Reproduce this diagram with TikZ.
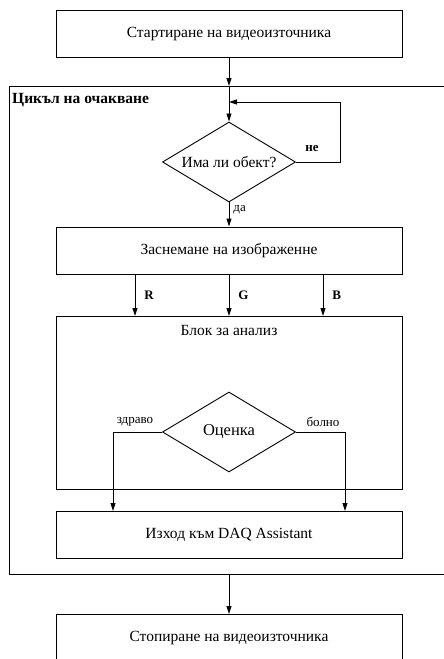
\documentclass[tikz,border=0pt]{standalone}
\usepackage{fontspec}
\setmainfont{Liberation Serif}
\usetikzlibrary{shapes.geometric,arrows.meta}

\begin{document}
\begin{tikzpicture}[x=1pt,y=-1pt]
    \tikzset{blk/.style={draw,line width=0.9pt,minimum width=346pt,minimum height=47pt,inner sep=0pt,font=\fontsize{15.5}{18}\selectfont}}
    \tikzset{dec/.style={draw,diamond,line width=0.9pt,minimum width=133pt,minimum height=80pt,inner sep=0pt}}
    \tikzset{arr/.style={line width=0.9pt,-{Triangle[length=8pt,width=5pt]}}}
    \tikzset{lbl/.style={font=\fontsize{13}{15}\selectfont,inner sep=1pt}}

    \useasboundingbox (0,0) rectangle (444,659);

    % outer loop frame
    \draw[line width=0.9pt] (9,86) rectangle (448,574);
    \node[anchor=west,font=\bfseries\fontsize{15.5}{18}\selectfont,inner sep=0pt] (looptitle) at (12,100) {Цикъл на очакване};

    \node[blk] (start) at (229,34) {Стартиране на видеоизточника};
    \node[dec] (obj) at (229,162) {};
    \node[font=\fontsize{15.5}{18}\selectfont] (objtext) at (obj) {Има ли обект?};
    \node[blk] (grab) at (229,250.5) {Заснемане на изображенне};
    \node[blk,minimum height=173pt] (anal) at (229,402.5) {};
    \node[font=\fontsize{15.5}{18}\selectfont] (analtitle) at (229,330) {Блок за анализ};
    \node[dec] (eval) at (229,432) {};
    \node[font=\fontsize{16.5}{18}\selectfont] (evaltext) at (eval) {Оценка};
    \node[blk] (out) at (229,534.5) {Изход към DAQ Assistant};
    \node[blk] (stop) at (229,638) {Стопиране на видеоизточника};

    \coordinate (frametop) at (229,86);
    \coordinate (framebot) at (229,574);
    \coordinate (back) at (229,102);

    \draw[arr] (start) -- (frametop);
    \draw[arr] (frametop) -- (obj);
    \draw[arr] (obj.east) -- (340,162) |- (back);
    \node[lbl,font=\bfseries\fontsize{13}{15}\selectfont] (no) at (312,149) {не};
    \draw[arr] (obj) -- node[lbl,right=3pt,pos=0.3] (yes) {да} (grab);

    % RGB channels
    \foreach \xx/\ch in {135/R,229/G,323/B}
      \draw[arr] (\xx,274) -- node[lbl,right=8pt,font=\bfseries\fontsize{13}{15}\selectfont] {\ch} (\xx,316);

    \draw[arr] (eval.west) -- (113,432) -- (113,511);
    \draw[arr] (eval.east) -- (345,432) -- (345,511);
    \node[lbl] (healthy) at (135,422) {здраво};
    \node[lbl] (sick) at (323,422) {болно};

    \draw[arr] (framebot) -- (stop);
\end{tikzpicture}
\end{document}
